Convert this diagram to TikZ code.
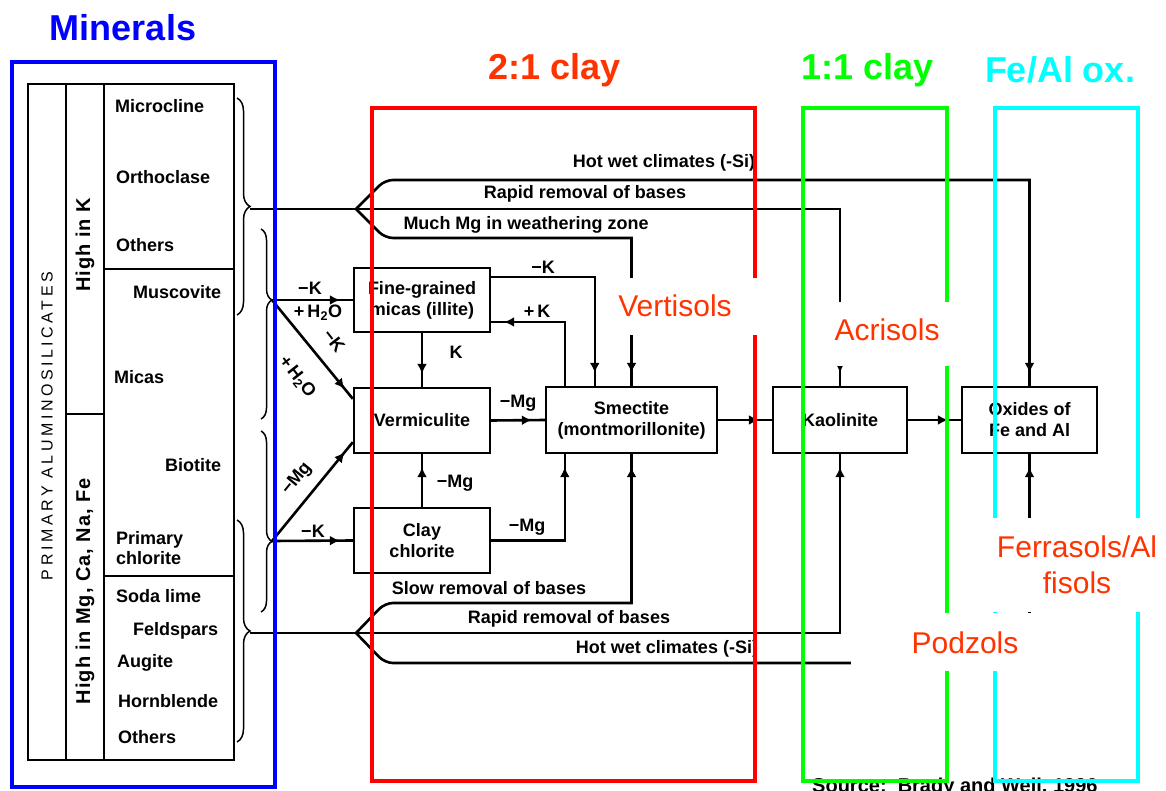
\documentclass[tikz,border=0pt]{standalone}
\usepackage{fontspec}
\setmainfont{Liberation Sans}
\usetikzlibrary{arrows.meta,decorations.markings,decorations.pathreplacing,calc}
\newcommand{\fA}{\fontsize{18}{21}\selectfont\bfseries}
\newcommand{\fT}{\fontsize{36}{40}\selectfont\bfseries}
\newcommand{\fS}{\fontsize{30}{36}\selectfont}
\newcommand{\fR}{\fontsize{20}{22}\selectfont\bfseries\addfontfeature{LetterSpace=5}}
\newcommand{\fP}{\fontsize{16}{18}\selectfont\addfontfeature{LetterSpace=22}}
\definecolor{titred}{HTML}{FF3300}
\definecolor{soilred}{HTML}{FF3300}
\definecolor{boxred}{HTML}{FF0000}
\definecolor{boxgreen}{HTML}{00FF00}
\definecolor{boxcyan}{HTML}{00FFFF}
\definecolor{boxblue}{HTML}{0000FF}
\begin{document}
\begin{tikzpicture}[x=1pt,y=-1pt,
  tab/.style={line width=2.6pt},
  box/.style={draw, line width=2.4pt, align=center, font=\fA, inner sep=0pt},
  flow/.style={line width=2.6pt, postaction={decorate},
    decoration={markings, mark=at position -13pt with {\arrow{Latex[length=10pt,width=10pt]}}}},
  plain/.style={line width=2.6pt},
  lab/.style={font=\fA, inner sep=0pt},
  mlab/.style={font=\fA, inner sep=0pt, anchor=west, align=left},
  brc/.style={line width=1.5pt, decorate, decoration={brace, amplitude=13pt}},
  soil/.style={font=\fS, text=soilred, inner sep=0pt, align=center},
  ttl/.style={font=\fT, inner sep=0pt},
  frame/.style={line width=4.5pt},
  blank/.style={fill=white, draw=none}
]
\path[use as bounding box, fill=white] (0,0) rectangle (1166,791);

% ---------- table of primary aluminosilicates ----------
\draw[tab] (28,84) rectangle (234,760);
\draw[tab] (66,84) -- (66,760);
\draw[tab] (104,84) -- (104,760);
\draw[tab] (104,269) -- (234,269);
\draw[tab] (104,576) -- (234,576);
\draw[tab] (66,414) -- (104,414);

\node[rotate=90, font=\fP, inner sep=0pt] (prim) at (47,426) {PRIMARY ALUMINOSILICATES};
\node[rotate=90, font=\fR, inner sep=0pt] (highk) at (85,245) {High in K};
\node[rotate=90, font=\fR, inner sep=0pt] (highmg) at (85,591) {High in Mg, Ca, Na, Fe};

\node[mlab] (microcline) at (115,106) {Microcline};
\node[mlab] (orthoclase) at (116,177) {Orthoclase};
\node[mlab] (others1) at (116,245) {Others};
\node[mlab] (muscovite) at (133,292) {Muscovite};
\node[mlab] (micas) at (114,377) {Micas};
\node[mlab] (biotite) at (165,465) {Biotite};
\node[mlab, font=\fontsize{18}{20}\selectfont\bfseries] (primchl) at (116,548) {Primary\\chlorite};
\node[mlab] (soda) at (116,596) {Soda lime};
\node[mlab] (feldspars) at (133,631) {Feldspars};
\node[mlab] (augite) at (117,663) {Augite};
\node[mlab] (hornblende) at (118,701) {Hornblende};
\node[mlab] (others2) at (118,737) {Others};

% ---------- braces ----------
\draw[brc] (237,98) -- (237,315);
\draw[brc, decoration={amplitude=11pt, aspect=0.374}] (261,229) -- (261,419);
\draw[brc, decoration={amplitude=11pt, aspect=0.61}] (261,431) -- (261,612);
\draw[brc] (237,520) -- (237,742);
\coordinate (b1) at (250,209);
\coordinate (b2) at (272,300);
\coordinate (b3) at (272,541);
\coordinate (b4) at (250,633);
\coordinate (fT) at (356,209);
\coordinate (fB) at (356,633);

% ---------- mineral boxes ----------
\node[box, minimum width=136pt, minimum height=64pt] (fine) at (422,300) {Fine-grained\\micas (illite)};
\node[box, minimum width=136pt, minimum height=65pt] (verm) at (422,420.5) {Vermiculite};
\node[box, minimum width=136pt, minimum height=65pt] (clay) at (422,540.5) {Clay\\chlorite};
\node[box, minimum width=171pt, minimum height=66pt] (smect) at (631.5,420) {Smectite\\(montmorillonite)};
\node[box, minimum width=134pt, minimum height=66pt] (kaol) at (840,420) {Kaolinite};
\node[box, minimum width=135pt, minimum height=66pt] (ox) at (1029.5,420) {Oxides of\\Fe and Al};

% ---------- top flows ----------
\draw[plain] (b1) -- (fT);
\draw[flow, rounded corners=8pt] (fT) -- (385,180) [sharp corners] -| (ox.north);
\draw[flow] (fT) -| (kaol.north);
\draw[flow, rounded corners=8pt] (fT) -- (385,238) [sharp corners] -| (smect.north);
\node[lab] (hotT) at (664,163) {Hot wet climates (-Si)};
\node[lab] (rapT) at (585,194) {Rapid removal of bases};
\node[lab] (mgT) at (526,225) {Much Mg in weathering zone};

% ---------- bottom flows ----------
\draw[plain] (b4) -- (fB);
\draw[flow, rounded corners=8pt] (fB) -- (385,603) [sharp corners] -| (smect.south);
\draw[flow] (fB) -| (kaol.south);
\draw[flow, rounded corners=8pt] (fB) -- (385,663) [sharp corners] -| (ox.south);
\node[lab] (slowB) at (489,588) {Slow removal of bases};
\node[lab] (rapB) at (569,619) {Rapid removal of bases};
\node[lab] (hotB) at (667,649) {Hot wet climates (-Si)};

% ---------- left arrows ----------
\draw[flow] (b2) -- (fine.west);
\draw[flow] (b2) -- ([yshift=-12pt]verm.north west);
\draw[flow] (b3) -- (clay.west);
\draw[flow] (b3) -- ([yshift=12pt]verm.south west);
\node[lab] (lk1) at (310,288) {−K};
\node[lab] (lh1) at (318,313) {+\,H\textsubscript{2}O};
\node[lab, rotate=-52] (lk2) at (334,341) {−K};
\node[lab, rotate=-52] (lh2) at (297,377) {+\,H\textsubscript{2}O};
\node[lab, rotate=51] (lmg1) at (297,479) {−Mg};
\node[lab] (lk3) at (313,531) {−K};

% ---------- inner arrows ----------
\draw[flow] ([yshift=23pt]fine.east) -| ([xshift=50pt]smect.north west);
\draw[flow] ([xshift=20pt]smect.north west) |- ([yshift=-22pt]fine.east);
\draw[flow] (fine.south) -- (verm.north);
\draw[flow] (verm.east) -- (smect.west);
\draw[flow] (clay.north) -- (verm.south);
\draw[flow] (clay.east) -| ([xshift=20pt]smect.south west);
\draw[flow] (smect.east) -- (kaol.west);
\draw[flow] (kaol.east) -- (ox.west);
\node[lab] (lk4) at (543,267) {−K};
\node[lab] (lk5) at (537,311) {+\,K};
\node[lab] (lk6) at (456,352) {K};
\node[lab] (lmg2) at (518,403) {−Mg};
\node[lab] (lmg3) at (455,483) {−Mg};
\node[lab] (lmg4) at (527,527) {−Mg};

\node[font=\fontsize{20}{22}\selectfont\bfseries, anchor=base west, inner sep=0pt] (source) at (812,792) {Source:\ \ Brady and Weil, 1996};

% ---------- coloured frames ----------
\draw[frame, boxblue] (12,62) rectangle (275,787);
\draw[frame, boxred] (372,108) rectangle (755,781);
\draw[frame, boxgreen] (803,108) rectangle (947,781);
\draw[frame, boxcyan] (995,108) rectangle (1138,781);

\node[ttl, text=boxblue] (tmin) at (123,28) {Minerals};
\node[ttl, text=titred] (t21) at (555,70) {2:1 clay};
\node[ttl, text=boxgreen] (t11) at (868,70) {1:1 clay};
\node[ttl, text=boxcyan] (tfe) at (1060,70) {Fe/Al ox.};

% ---------- soil labels ----------
\fill[white] (598,278) rectangle (765,335);
\fill[white] (805,302) rectangle (952,366);
\fill[white] (992,518) rectangle (1166,612);
\fill[white] (851,613) rectangle (1035,671);
\node[soil] (vert) at (675,306) {Vertisols};
\node[soil] (acri) at (887,330) {Acrisols};
\node[soil] (ferr) at (1077,565) {Ferrasols/Al\\fisols};
\node[soil] (podz) at (965,643) {Podzols};
\end{tikzpicture}
\end{document}
